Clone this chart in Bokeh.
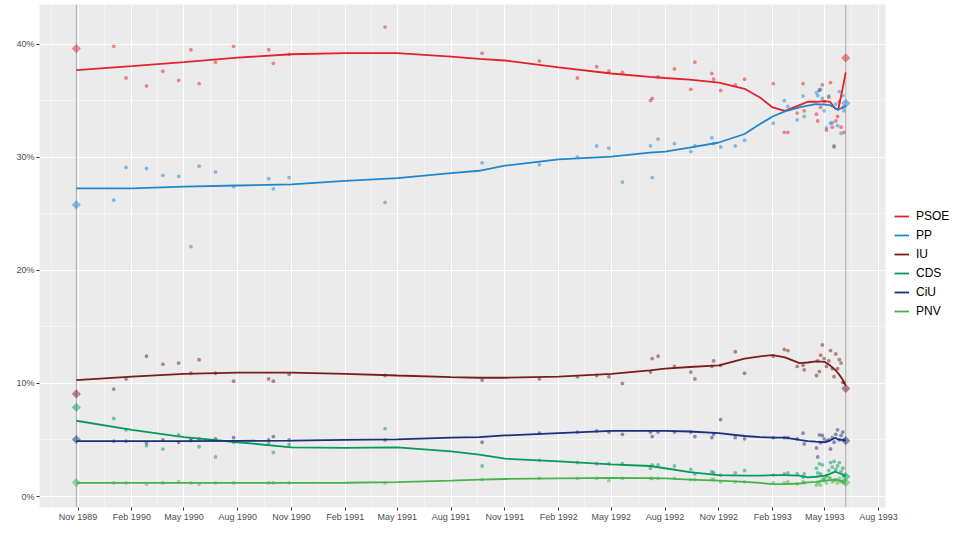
import pandas as pd
from bokeh.plotting import figure
from bokeh.models import (ColumnDataSource, Range1d, FixedTicker, Span, Legend,
                          LegendItem, DatetimeTickFormatter)
from bokeh.embed import file_html
from bokeh.resources import INLINE

parties = ["PSOE", "PP", "IU", "CDS", "CiU", "PNV"]
colors = ["#E4202B", "#1F86CD", "#7A1C1C", "#049A5B", "#1B2E7F", "#47B24A"]

# election results (diamonds)
election_dates = ["1989-10-29", "1993-06-06"]
res_psoe = [39.6, 38.78]
res_pp = [25.79, 34.76]
res_iu = [9.07, 9.55]
res_cds = [7.89, 1.76]
res_ciu = [5.04, 4.94]
res_pnv = [1.23, 1.24]

# opinion polls
poll_dates = [
    "1990-01-01", "1990-01-22", "1990-02-26", "1990-03-26", "1990-04-22", "1990-05-13",
    "1990-05-27", "1990-06-24", "1990-07-25", "1990-09-23", "1990-10-01", "1990-10-28",
    "1991-04-10", "1991-09-23", "1991-12-30", "1992-03-04", "1992-04-06", "1992-04-27",
    "1992-05-20", "1992-07-07", "1992-07-10", "1992-07-20", "1992-08-17", "1992-09-14",
    "1992-09-21", "1992-10-20", "1992-10-23", "1992-11-04", "1992-11-29", "1992-12-15",
    "1993-02-02", "1993-02-21", "1993-02-27", "1993-03-15", "1993-03-25", "1993-03-27",
    "1993-04-17", "1993-04-19", "1993-04-22", "1993-04-24", "1993-04-27", "1993-04-30",
    "1993-05-04", "1993-05-08", "1993-05-11", "1993-05-14", "1993-05-17", "1993-05-20",
    "1993-05-23", "1993-05-26", "1993-05-29", "1993-06-01", "1993-06-03",
]
poll_psoe = [39.8, 37.0, 36.3, 37.6, 36.8, 39.5, 36.5, 38.4, 39.8, 39.5, 38.3, 39.1,
             41.5, 39.2, 38.5, 37.0, 38.0, 37.6, 37.5, 35.0, 35.2, 37.1, 37.8, 36.0,
             38.4, 37.4, 36.9, 35.9, 36.4, 36.9, 36.5, 32.2, 32.2, 33.9, 36.5, 34.1,
             33.8, 33.2, 35.9, 34.4, 36.4, 34.9, 32.4, 35.3, 36.6, 32.65, 31.0, 33.2,
             33.6, 34.9, 32.65, 34.4, 32.2]
poll_pp = [26.2, 29.1, 29.0, 28.4, 28.3, 22.1, 29.2, 28.7, 27.4, 28.1, 27.2, 28.2,
           26.0, 29.5, 29.35, 30.0, 31.0, 30.8, 27.8, 31.0, 28.2, 31.6, 31.2, 30.5,
           31.0, 31.7, 31.2, 30.9, 31.0, 31.5, 33.0, 35.0, 34.5, 33.3, 35.4, 33.6,
           35.7, 35.45, 35.95, 36.0, 35.2, 34.1, 32.6, 35.4, 33.0, 33.05, 30.9, 34.7,
           32.8, 35.8, 32.1, 35.45, 34.1]
poll_iu = [9.5, 10.4, 12.4, 11.7, 11.8, 10.9, 12.1, 10.9, 10.2, 10.4, 10.2, 10.8,
           10.7, 10.3, 10.4, 10.6, 10.7, 10.6, 10.0, 11.0, 12.2, 12.4, 11.5, 11.0,
           10.4, 11.5, 12.0, 11.6, 12.8, 10.9, 12.4, 13.0, 12.9, 11.5, 11.6, 11.2,
           10.7, 12.0, 11.05, 12.5, 13.4, 12.2, 11.5, 12.0, 12.9, 11.3, 10.6, 12.6,
           11.3, 12.1, 11.8, 10.1, 10.1]
poll_cds = [6.9, 5.9, 4.5, 4.2, 5.45, 5.1, 4.4, 3.5, 4.8, 4.75, 3.9, 4.6,
            6.0, 2.7, 3.2, 3.0, 2.9, 2.9, 2.9, 2.5, 2.8, 2.8, 2.7, 2.4,
            2.0, 2.2, 2.1, 1.9, 2.1, 2.3, 1.9, 2.0, 2.1, 2.0, 1.7, 2.0,
            2.5, 2.1, 2.9, 2.0, 2.8, 1.6, 1.8, 2.3, 3.0, 2.6, 3.1, 2.4,
            2.7, 3.0, 2.2, 2.5, 1.9]
poll_ciu = [4.9, 4.9, 4.75, 5.0, 4.8, 4.95, 5.1, 5.1, 5.2, 5.0, 5.3, 5.0,
            5.0, 4.8, 5.6, 5.7, 5.8, 5.7, 5.5, 5.7, 5.3, 5.7, 5.7, 5.7,
            5.3, 5.2, 5.5, 6.8, 5.2, 5.1, 5.2, 5.2, 5.2, 5.1, 5.6, 4.65,
            4.3, 3.5, 5.45, 4.75, 5.4, 5.1, 4.9, 5.0, 4.2, 5.2, 4.8, 5.5,
            5.9, 5.0, 5.4, 5.7, 5.0]
poll_pnv = [1.2, 1.2, 1.1, 1.2, 1.3, 1.2, 1.1, 1.2, 1.2, 1.2, 1.2, 1.2,
            1.2, 1.5, 1.6, 1.6, 1.6, 1.4, 1.6, 1.6, 1.6, 1.6, 1.6, 1.5,
            1.5, 1.5, 1.5, 1.3, 1.3, 1.3, 1.2, 1.2, 1.3, 1.1, 1.3, 1.2,
            1.0, 1.2, 1.3, 1.0, 1.5, 1.4, 1.2, 1.7, 1.6, 1.3, 1.4, 1.5,
            1.2, 1.6, 1.3, 1.4, 1.2]

# smoothed trend lines
smooth_dates = [
    "1989-10-29", "1990-02-01", "1990-05-01", "1990-08-01", "1990-11-01", "1991-02-01",
    "1991-05-01", "1991-08-01", "1991-09-18", "1991-11-01", "1992-02-01", "1992-05-01",
    "1992-07-06", "1992-08-01", "1992-09-12", "1992-11-01", "1992-12-15", "1993-01-11",
    "1993-02-01", "1993-02-22", "1993-03-19", "1993-04-02", "1993-04-16", "1993-05-01",
    "1993-05-10", "1993-05-19", "1993-05-24", "1993-05-31", "1993-06-06",
]
sm_psoe = [37.7, 38.05, 38.4, 38.8, 39.1, 39.2, 39.2, 38.9, 38.7, 38.55, 37.95, 37.4,
           37.1, 37.0, 36.85, 36.6, 36.05, 35.25, 34.4, 34.1, 34.6, 34.9, 34.9, 34.95,
           34.9, 34.3, 34.2, 35.9, 37.5]
sm_pp = [27.25, 27.25, 27.4, 27.5, 27.6, 27.9, 28.15, 28.6, 28.8, 29.25, 29.8, 30.05,
         30.4, 30.5, 30.85, 31.3, 32.05, 32.95, 33.6, 34.05, 34.4, 34.55, 34.7, 34.65,
         34.6, 34.35, 34.2, 34.35, 34.55]
sm_iu = [10.3, 10.6, 10.85, 10.95, 10.95, 10.85, 10.7, 10.55, 10.5, 10.5, 10.6, 10.85,
         11.15, 11.3, 11.45, 11.6, 12.2, 12.4, 12.5, 12.3, 11.8, 11.85, 11.95, 11.9,
         11.6, 11.2, 10.9, 10.4, 9.8]
sm_cds = [6.7, 5.9, 5.25, 4.8, 4.35, 4.3, 4.35, 4.0, 3.7, 3.35, 3.1, 2.85,
          2.7, 2.5, 2.15, 1.9, 1.85, 1.85, 1.9, 1.9, 1.85, 1.7, 1.75, 1.85,
          2.0, 2.2, 2.1, 1.95, 1.8]
sm_ciu = [4.9, 4.9, 4.9, 4.92, 4.95, 5.0, 5.05, 5.2, 5.25, 5.4, 5.6, 5.8,
          5.8, 5.8, 5.75, 5.6, 5.35, 5.25, 5.2, 5.2, 5.0, 4.9, 4.85, 4.8,
          4.95, 5.2, 5.05, 5.0, 4.95]
sm_pnv = [1.2, 1.2, 1.2, 1.2, 1.2, 1.22, 1.27, 1.4, 1.5, 1.55, 1.6, 1.65,
          1.62, 1.6, 1.5, 1.4, 1.3, 1.2, 1.1, 1.1, 1.15, 1.25, 1.3, 1.4,
          1.45, 1.5, 1.45, 1.35, 1.3]

xtick_labels = ["Nov 1989", "Feb 1990", "May 1990", "Aug 1990", "Nov 1990", "Feb 1991",
                "May 1991", "Aug 1991", "Nov 1991", "Feb 1992", "May 1992", "Aug 1992",
                "Nov 1992", "Feb 1993", "May 1993", "Aug 1993"]
ytick_values = [0, 10, 20, 30, 40]
ytick_labels = ["0%", "10%", "20%", "30%", "40%"]

polls = ColumnDataSource(dict(date=pd.to_datetime(poll_dates), PSOE=poll_psoe, PP=poll_pp,
                              IU=poll_iu, CDS=poll_cds, CiU=poll_ciu, PNV=poll_pnv))
results = ColumnDataSource(dict(date=pd.to_datetime(election_dates), PSOE=res_psoe, PP=res_pp,
                                IU=res_iu, CDS=res_cds, CiU=res_ciu, PNV=res_pnv))
smooth = ColumnDataSource(dict(date=pd.to_datetime(smooth_dates), PSOE=sm_psoe, PP=sm_pp,
                               IU=sm_iu, CDS=sm_cds, CiU=sm_ciu, PNV=sm_pnv))

def ms(ts):
    return pd.Timestamp(ts).value / 1e6

LEFT, TOP, FRAME_W, FRAME_H = 39, 4, 846, 503
p = figure(frame_width=FRAME_W, frame_height=FRAME_H, x_axis_type="datetime",
           output_backend="svg", toolbar_location=None,
           x_range=Range1d(ms("1989-08-27"), ms("1993-08-13")),
           y_range=Range1d(-0.97, 43.5),
           min_border_left=LEFT, min_border_right=960 - LEFT - FRAME_W,
           min_border_top=TOP, min_border_bottom=534 - TOP - FRAME_H)

p.background_fill_color = "#EBEBEB"
p.border_fill_color = "white"
p.outline_line_color = None

tick_ms = [ms(pd.to_datetime(t, format="%b %Y")) for t in xtick_labels]
minor_ms = [(a + b) / 2 for a, b in zip(tick_ms[:-1], tick_ms[1:])]
minor_ms = [tick_ms[0] - (tick_ms[1] - tick_ms[0]) / 2] + minor_ms
p.xaxis.ticker = FixedTicker(ticks=tick_ms, minor_ticks=minor_ms)
fmt = "%b %Y"
p.xaxis.formatter = DatetimeTickFormatter(milliseconds=fmt, seconds=fmt, minsec=fmt, minutes=fmt,
                                          hourmin=fmt, hours=fmt, days=fmt, months=fmt, years=fmt)
p.yaxis.ticker = FixedTicker(ticks=ytick_values, minor_ticks=[5, 15, 25, 35])
p.yaxis.major_label_overrides = {v: l for v, l in zip(ytick_values, ytick_labels)}

for ax in (p.xaxis, p.yaxis):
    ax.axis_line_color = None
    ax.major_tick_line_color = "#333333"
    ax.major_tick_out = 3
    ax.major_tick_in = 0
    ax.minor_tick_out = 0
    ax.minor_tick_in = 0
    ax.major_label_text_font = "Liberation Sans"
    ax.major_label_text_font_size = "9px"
    ax.major_label_text_color = "#4D4D4D"
p.xaxis.major_label_standoff = 1
p.yaxis.major_label_standoff = 2

for g in (p.xgrid, p.ygrid):
    g.grid_line_color = "white"
    g.grid_line_width = 1.1
    g.minor_grid_line_color = "white"
    g.minor_grid_line_width = 0.5

for d in election_dates:
    p.add_layout(Span(location=ms(d), dimension="height", line_color="#ADADAD",
                      line_width=1, level="underlay"))

for party, c in zip(parties, colors):
    p.scatter(x="date", y=party, source=polls, size=3.8, fill_color=c, fill_alpha=0.5,
              line_color=None)
    p.scatter(x="date", y=party, source=results, marker="square", angle=0.785398,
              size=6.5, fill_color=c, fill_alpha=0.5, line_color=None)

items = []
for party, c in zip(parties, colors):
    r = p.line(x="date", y=party, source=smooth, line_color=c, line_width=1.8)
    items.append(LegendItem(label=party, renderers=[r]))

legend = Legend(items=items, location=(9, 189), margin=0, padding=4,
                glyph_width=15, glyph_height=14, label_height=14, spacing=5,
                label_standoff=7, label_text_font="Liberation Sans",
                label_text_font_size="12px", label_text_color="black",
                background_fill_alpha=0, border_line_color=None)
p.add_layout(legend, "right")

open("out.html", "w").write(file_html(p, INLINE))
